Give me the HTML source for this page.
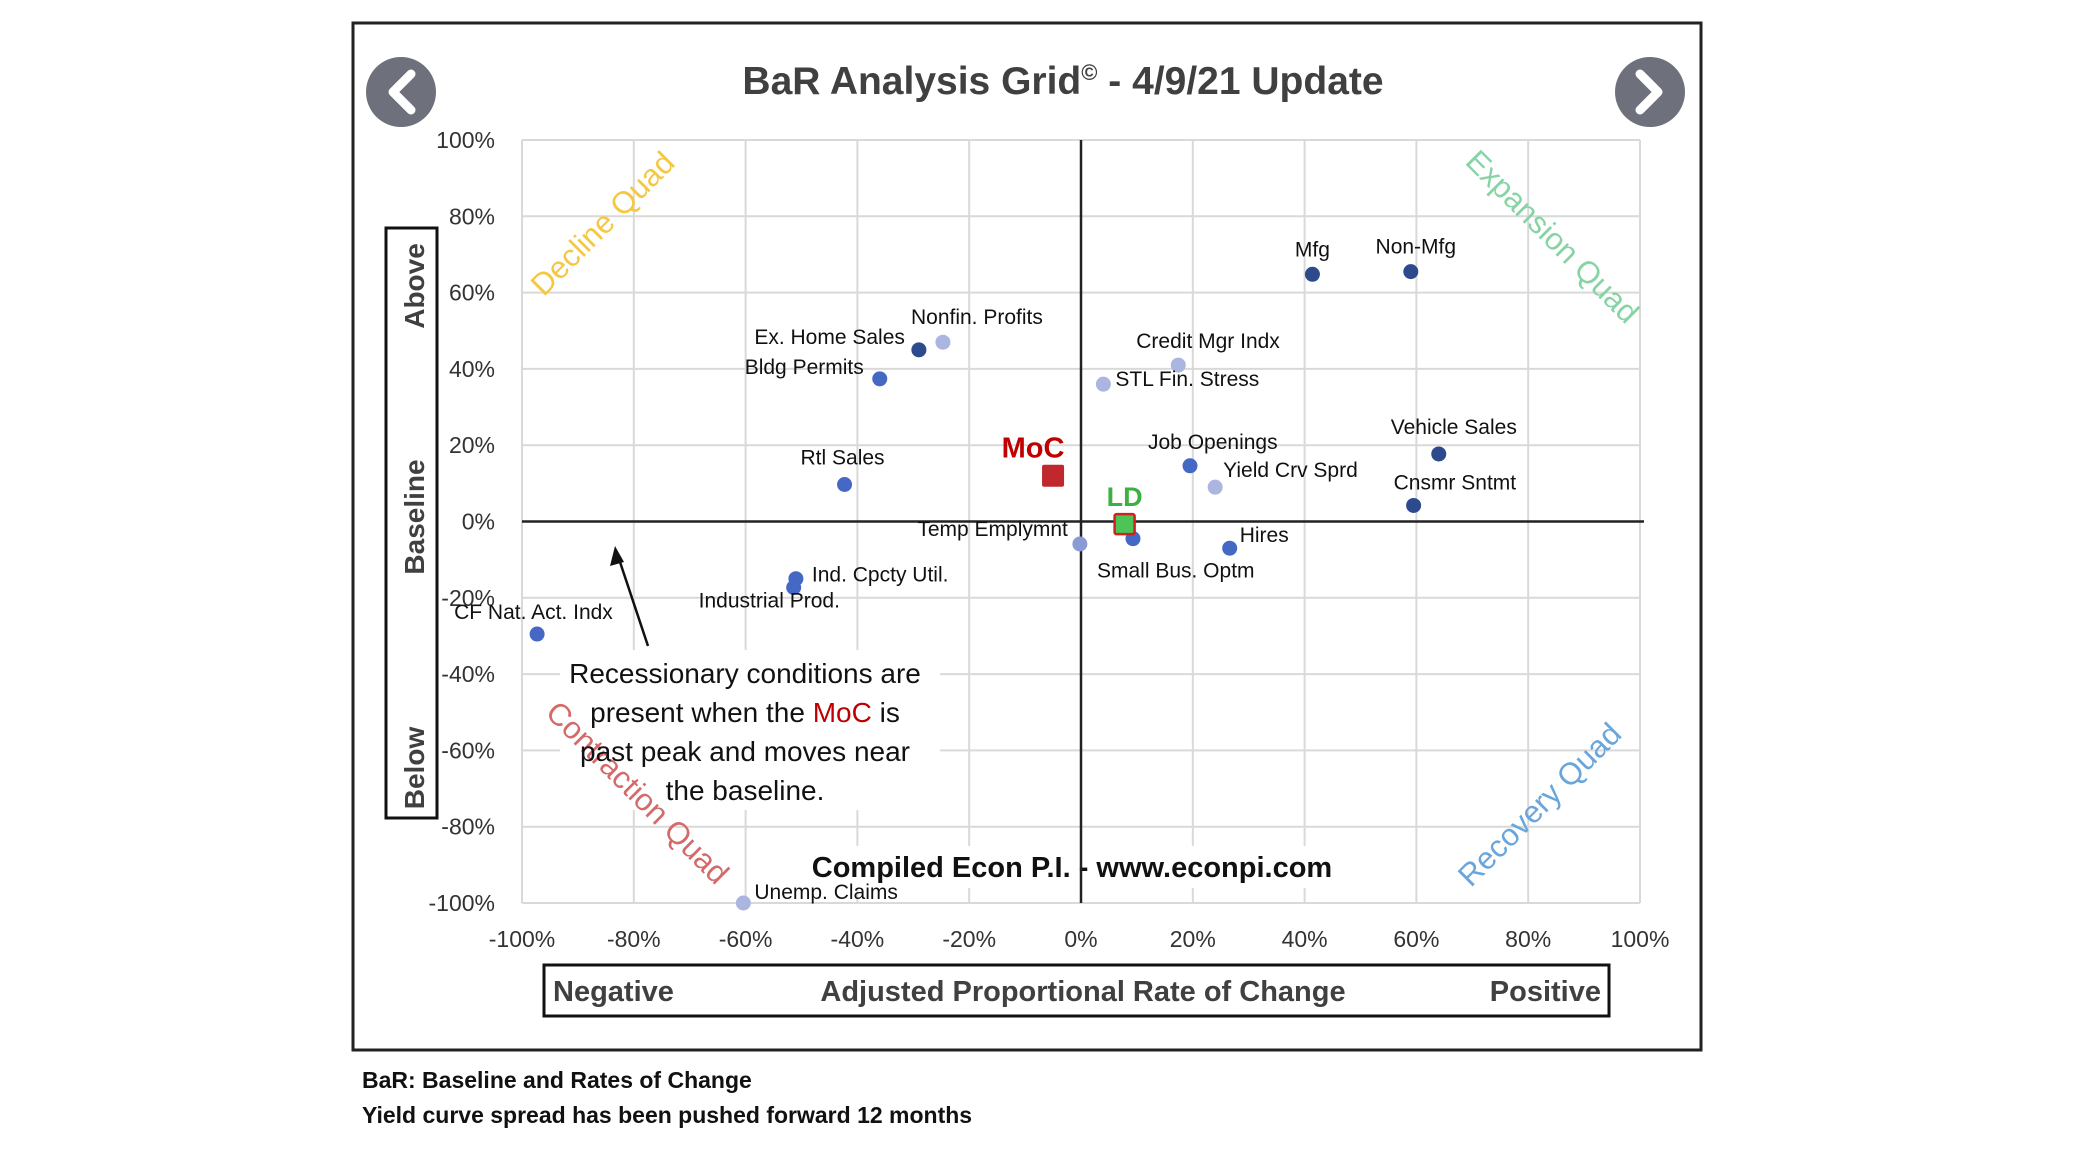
<!DOCTYPE html>
<html><head><meta charset="utf-8"><style>
html,body{margin:0;padding:0;background:#fff;}
svg{display:block;font-family:"Liberation Sans",sans-serif;}
</style></head><body>
<svg id="chart" width="2076" height="1156" viewBox="0 0 2076 1156" xmlns="http://www.w3.org/2000/svg">
<rect x="353" y="23" width="1348" height="1027" fill="#fff" stroke="#222" stroke-width="3"/>
<text x="1063" y="94" text-anchor="middle" font-size="39" font-weight="bold" fill="#404040">BaR Analysis Grid<tspan font-size="22" dy="-14">©</tspan><tspan dy="14"> - 4/9/21 Update</tspan></text>
<g><circle cx="401" cy="92" r="35" fill="#6e717c"/><path d="M411 74 L393 92 L411 110" fill="none" stroke="#fff" stroke-width="9" stroke-linecap="round" stroke-linejoin="round"/></g>
<g><circle cx="1650" cy="92" r="35" fill="#6e717c"/><path d="M1640 74 L1658 92 L1640 110" fill="none" stroke="#fff" stroke-width="9" stroke-linecap="round" stroke-linejoin="round"/></g>
<g id="grid"></g>
<rect x="560" y="650" width="380" height="160" fill="#fff"/>
<rect x="800" y="846" width="540" height="42" fill="#fff"/>
<g id="quads"></g>
<g font-size="28" fill="#111" text-anchor="middle">
<text x="745" y="683">Recessionary conditions are</text>
<text x="745" y="722">present when the <tspan fill="#c00000">MoC</tspan> is</text>
<text x="745" y="761">past peak and moves near</text>
<text x="745" y="800">the baseline.</text>
</g>
<line x1="648" y1="646" x2="618" y2="556" stroke="#111" stroke-width="2.5"/>
<path d="M615 546 L610 566 L624 562 Z" fill="#111"/>
<text x="1072" y="877" text-anchor="middle" font-size="29" font-weight="bold" fill="#111">Compiled Econ P.I. - www.econpi.com</text>
<g id="axes"></g>
<g id="points"></g>
<g>
<rect x="386" y="228" width="51" height="590" fill="#fff" stroke="#111" stroke-width="3"/>
<text transform="translate(424,286) rotate(-90)" text-anchor="middle" font-size="28" font-weight="bold" fill="#404040">Above</text>
<text transform="translate(424,517) rotate(-90)" text-anchor="middle" font-size="28" font-weight="bold" fill="#404040">Baseline</text>
<text transform="translate(424,768) rotate(-90)" text-anchor="middle" font-size="28" font-weight="bold" fill="#404040">Below</text>
</g>
<g>
<rect x="544" y="965" width="1065" height="51" fill="#fff" stroke="#111" stroke-width="3"/>
<text x="553" y="1001" font-size="29" font-weight="bold" fill="#404040">Negative</text>
<text x="1083" y="1001" text-anchor="middle" font-size="29" font-weight="bold" fill="#404040">Adjusted Proportional Rate of Change</text>
<text x="1601" y="1001" text-anchor="end" font-size="29" font-weight="bold" fill="#404040">Positive</text>
</g>
<text x="362" y="1088" font-size="23" font-weight="bold" fill="#111">BaR: Baseline and Rates of Change</text>
<text x="362" y="1123" font-size="23" font-weight="bold" fill="#111">Yield curve spread has been pushed forward 12 months</text>
</svg>
<script>
const names = ["Mfg","Non-Mfg","Ex. Home Sales","Nonfin. Profits","Bldg Permits","Credit Mgr Indx","STL Fin. Stress","Job Openings","Yield Crv Sprd","Vehicle Sales","Cnsmr Sntmt","Rtl Sales","Temp Emplymnt","Small Bus. Optm","Hires","Ind. Cpcty Util.","Industrial Prod.","CF Nat. Act. Indx","Unemp. Claims"];
const rateOfChange = [41.4,59,-29,-24.7,-36,17.4,4,19.5,24,64,59.5,-42.3,-0.2,9.3,26.6,-51,-51.4,-97.3,-60.4];
const baseline = [64.8,65.5,45,47,37.4,41,36,14.6,9,17.7,4.2,9.7,-5.9,-4.5,-7,-15,-17.3,-29.5,-100];
const shade = ["dark","dark","dark","light","mid","light","light","mid","light","dark","dark","mid","lightmid","mid","mid","mid","mid","mid","light"];
const mocValue = [-5, 12];
const ldValue = [7.8, -0.7];
const xTicks = [-100,-80,-60,-40,-20,0,20,40,60,80,100];
const yTicks = [-100,-80,-60,-40,-20,0,20,40,60,80,100];
// label offsets (layout, px): dx, dy, anchor
const labelDx = [0,5,-14,34,-16,-42,12,-42,8,-48,-20,-2,-12,-36,10,16,-95,-83,11];
const labelDy = [-18,-18,-6,-18,-5,-17,2,-17,-10,-20,-16,-20,-8,39,-6,3,20,-15,-4];
const labelAnchor = ["middle","middle","end","middle","end","start","start","start","start","start","start","middle","end","start","start","start","start","start","start"];

const NS="http://www.w3.org/2000/svg";
const X0=522,X1=1640,Y0=903,Y1=140;
const xs=v=>X0+(v+100)/200*(X1-X0);
const ys=v=>Y0-(v+100)/200*(Y0-Y1);
const colors={dark:"#2c4a8c",mid:"#4568c4",light:"#aab5e0",lightmid:"#8a9ad4"};
function mk(tag,attrs,parent){const e=document.createElementNS(NS,tag);for(const k in attrs)e.setAttribute(k,attrs[k]);parent.appendChild(e);return e;}
const grid=document.getElementById('grid'),axes=document.getElementById('axes'),pts=document.getElementById('points'),quads=document.getElementById('quads');
xTicks.forEach(t=>{
  const l=mk('line',{x1:xs(t),x2:xs(t),y1:ys(100),y2:ys(-100),stroke:"#d9d9d9","stroke-width":2},grid);
  
  
  const tx=mk('text',{x:xs(t),y:947,"text-anchor":"middle","font-size":23,fill:"#333"},axes);
  tx.textContent=t+"%";
  
  
});
yTicks.forEach(t=>{
  const l=mk('line',{x1:xs(-100),x2:xs(100),y1:ys(t),y2:ys(t),stroke:"#d9d9d9","stroke-width":2},grid);
  
  
  const tx=mk('text',{x:495,y:ys(t)+8,"text-anchor":"end","font-size":23,fill:"#333"},axes);
  tx.textContent=t+"%";
  
  
});
const va=mk('line',{x1:xs(0),x2:xs(0),y1:ys(100),y2:ys(-100),stroke:"#222","stroke-width":2.5},axes);


const ha=mk('line',{x1:xs(-100),x2:xs(100)+4,y1:ys(0),y2:ys(0),stroke:"#222","stroke-width":2.5},axes);


const quadDefs=[["Decline Quad",610,231,-45,"#f5c842","decline-quad-label"],["Expansion Quad",1545,244,45,"#86d4a4","expansion-quad-label"],["Contraction Quad",630,800,45,"#d46a6a","contraction-quad-label"],["Recovery Quad",1547,812,-45,"#6aa6dc","recovery-quad-label"]];
quadDefs.forEach(q=>{
  const t=mk('text',{transform:`translate(${q[1]},${q[2]}) rotate(${q[3]})`,"text-anchor":"middle","font-size":31,fill:q[4]},quads);
  t.textContent=q[0];
  
  
});
names.forEach((n,i)=>{
  const cx=xs(rateOfChange[i]),cy=ys(baseline[i]);
  const c=mk('circle',{cx:cx,cy:cy,r:7.5,fill:colors[shade[i]]},pts);
  
  
  const t=mk('text',{x:cx+labelDx[i],y:cy+labelDy[i],"text-anchor":labelAnchor[i],"font-size":21,fill:"#111"},pts);
  t.textContent=n;
  
  
});
const moc=mk('rect',{x:xs(mocValue[0])-11,y:ys(mocValue[1])-11,width:22,height:22,fill:"#c0282d",rx:2},pts);


const mocT=mk('text',{x:xs(mocValue[0])-20,y:ys(mocValue[1])-18,"text-anchor":"middle","font-size":29,"font-weight":"bold",fill:"#c00000"},pts);
mocT.textContent="MoC";


const ld=mk('rect',{x:xs(ldValue[0])-10,y:ys(ldValue[1])-10,width:20,height:20,fill:"#4cc456",stroke:"#d02020","stroke-width":2.5,rx:2},pts);


const ldT=mk('text',{x:xs(ldValue[0]),y:ys(ldValue[1])-18,"text-anchor":"middle","font-size":27,"font-weight":"bold",fill:"#3cb043"},pts);
ldT.textContent="LD";


</script>
</body></html>
